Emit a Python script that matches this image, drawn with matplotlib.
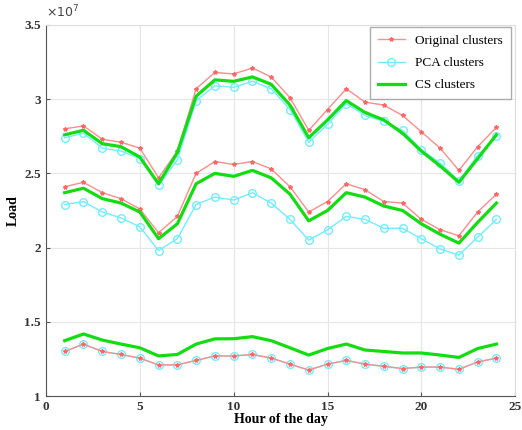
import matplotlib
matplotlib.use("Agg")
import matplotlib.pyplot as plt
from matplotlib.ticker import FuncFormatter
import numpy as np

plt.rcParams['font.family'] = ['Liberation Serif', 'DejaVu Serif']

hours = np.arange(1, 25)

# load values in units of 1e7
orig_high = [2.80, 2.82, 2.73, 2.71, 2.67, 2.47, 2.65, 3.07, 3.18, 3.17, 3.21, 3.15,
             3.01, 2.79, 2.93, 3.07, 2.98, 2.96, 2.89, 2.78, 2.67, 2.52, 2.68, 2.81]
pca_high = [2.74, 2.77, 2.67, 2.65, 2.60, 2.42, 2.59, 2.99, 3.09, 3.08, 3.12, 3.07,
            2.93, 2.71, 2.83, 2.97, 2.89, 2.85, 2.79, 2.66, 2.57, 2.45, 2.62, 2.75]
cs_high = [2.76, 2.79, 2.70, 2.68, 2.61, 2.43, 2.64, 3.02, 3.13, 3.12, 3.15, 3.10,
           2.96, 2.74, 2.86, 2.99, 2.91, 2.86, 2.77, 2.65, 2.55, 2.44, 2.60, 2.76]

orig_mid = [2.41, 2.44, 2.37, 2.33, 2.26, 2.10, 2.21, 2.50, 2.58, 2.56, 2.58, 2.53,
            2.41, 2.24, 2.31, 2.43, 2.39, 2.31, 2.30, 2.19, 2.12, 2.08, 2.24, 2.36]
pca_mid = [2.29, 2.31, 2.24, 2.20, 2.14, 1.98, 2.06, 2.29, 2.34, 2.32, 2.37, 2.30,
           2.19, 2.05, 2.12, 2.21, 2.19, 2.13, 2.13, 2.06, 1.99, 1.95, 2.07, 2.19]
cs_mid = [2.37, 2.40, 2.33, 2.30, 2.24, 2.06, 2.16, 2.43, 2.50, 2.48, 2.52, 2.47,
          2.36, 2.18, 2.25, 2.37, 2.34, 2.28, 2.25, 2.16, 2.09, 2.03, 2.17, 2.30]

orig_low = [1.30, 1.35, 1.30, 1.28, 1.255, 1.21, 1.21, 1.24, 1.27, 1.27, 1.28, 1.256,
            1.215, 1.175, 1.215, 1.24, 1.215, 1.20, 1.185, 1.195, 1.195, 1.18, 1.23, 1.255]
pca_low = list(orig_low)
cs_low = [1.373, 1.418, 1.377, 1.35, 1.325, 1.27, 1.28, 1.35, 1.385, 1.386, 1.40, 1.373,
          1.325, 1.276, 1.32, 1.35, 1.31, 1.30, 1.29, 1.29, 1.276, 1.26, 1.32, 1.35]

scale = 1e7

fig = plt.figure(figsize=(5.22, 4.30), dpi=100)
ax = fig.add_axes([0.088, 0.079, 0.899, 0.863])

red = '#ff8c8c'
cyan = '#70eeff'
green = '#11dd11'

first = True
for orig, pca, cs in [(orig_high, pca_high, cs_high),
                      (orig_mid, pca_mid, cs_mid),
                      (orig_low, pca_low, cs_low)]:
    ax.plot(hours, np.array(pca) * scale, '-o', color=cyan, lw=1.0, ms=5.5,
            mfc='none', mew=1.0, label='PCA clusters' if first else None, zorder=2)
    ax.plot(hours, np.array(orig) * scale, '-*', color=red, lw=1.0, ms=3,
            mec='#ff6666', mfc='#ff6666', label='Original clusters' if first else None,
            zorder=3)
    ax.plot(hours, np.array(cs) * scale, '-', color=green, lw=2.3,
            label='CS clusters' if first else None, zorder=4)
    first = False

ax.set_xlim(0, 25)
ax.set_ylim(1e7, 3.5e7)
ax.set_xticks([0, 5, 10, 15, 20, 25])
ax.set_yticks(np.arange(1, 3.51, 0.5) * scale)
ax.yaxis.set_major_formatter(FuncFormatter(lambda v, p: f"{v / scale:g}"))
ax.grid(True, color='#e6e6e6', lw=0.8)
ax.set_axisbelow(True)

for side in ['top', 'right']:
    ax.spines[side].set_color('#dddddd')
for side in ['left', 'bottom']:
    ax.spines[side].set_color('#555555')
ax.tick_params(direction='in', length=3, color='#555555', labelsize=9.5,
               top=False, right=False)
for lab in ax.get_xticklabels() + ax.get_yticklabels():
    lab.set_fontweight('bold')
    lab.set_color('#333333')

ax.text(0.0, 1.012, r'$\times10^7$', transform=ax.transAxes, fontsize=9,
        color='#444444', ha='left', va='bottom')

ax.set_xlabel('Hour of the day', fontsize=10, fontweight='bold', labelpad=0)
ax.set_ylabel('Load', fontsize=10, fontweight='bold', labelpad=3)

handles, labels = ax.get_legend_handles_labels()
order = [labels.index('Original clusters'), labels.index('PCA clusters'),
         labels.index('CS clusters')]
leg = ax.legend([handles[i] for i in order], [labels[i] for i in order],
                loc='upper right', fontsize=9.5, frameon=True, fancybox=False,
                edgecolor='#999999', borderpad=0.6, labelspacing=0.75,
                handlelength=2.0, borderaxespad=0.15, bbox_to_anchor=(0.995, 1.0))
leg.get_frame().set_linewidth(1.0)

fig.savefig('out.png', dpi=100)
